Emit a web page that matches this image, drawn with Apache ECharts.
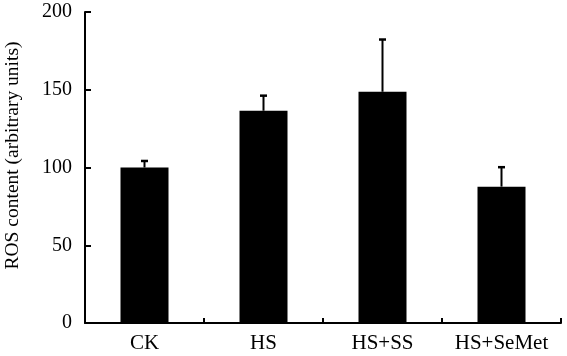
<!DOCTYPE html>
<html><head><meta charset="utf-8">
<script src="https://cdn.jsdelivr.net/npm/echarts@6/dist/echarts.min.js"></script>
<style>html,body{margin:0;padding:0;background:#fff}#c{width:567px;height:356px}</style>
</head><body><div id="c"></div>
<script>
const categories = ['CK', 'HS', 'HS+SS', 'HS+SeMet'];
const means = [100, 136.5, 148.7, 87.7];
const errors = [4.2, 9.7, 33.6, 12.5];
const yTicks = [0, 50, 100, 150, 200];

const font = '"Liberation Serif", "Times New Roman", serif';
const chart = echarts.init(document.getElementById('c'), null, {renderer: 'canvas'});
chart.setOption({
  animation: false,
  backgroundColor: '#fff',
  grid: {left: 85, right: 6, top: 12, bottom: 33, containLabel: false, outerBoundsMode: 'none'},
  xAxis: {
    type: 'category', data: categories,
    axisLine: {lineStyle: {color: '#000', width: 2}},
    axisTick: {show: true, inside: true, length: 5, lineStyle: {color: '#000', width: 2}, alignWithLabel: false},
    axisLabel: {color: '#000', fontFamily: font, fontSize: 21, margin: 10, interval: 0, hideOverlap: false}
  },
  yAxis: {
    type: 'value', min: yTicks[0], max: yTicks[yTicks.length - 1], interval: 50,
    name: 'ROS content (arbitrary units)', nameLocation: 'middle', nameGap: 62,
    nameTextStyle: {color: '#000', fontFamily: font, fontSize: 19.5, padding: [0, 0, 0, 24]},
    axisLine: {show: true, lineStyle: {color: '#000', width: 2}},
    axisTick: {show: true, inside: true, length: 6, lineStyle: {color: '#000', width: 2}},
    axisLabel: {color: '#000', fontFamily: font, fontSize: 20, margin: 13},
    splitLine: {show: false}
  },
  series: [
    {
      type: 'bar', data: means, barWidth: 48,
      itemStyle: {color: '#000'}, z: 2
    },
    {
      type: 'custom', z: 3,
      data: means.map((m, i) => [i, m, m + errors[i]]),
      renderItem: function (params, api) {
        const x = api.value(0);
        const p0 = api.coord([x, api.value(1)]);
        const p1 = api.coord([x, api.value(2)]);
        const hw = 3.5;
        return {
          type: 'group',
          children: [
            {type: 'line', shape: {x1: p0[0], y1: p0[1], x2: p1[0], y2: p1[1]}, style: {stroke: '#000', lineWidth: 2}},
            {type: 'line', shape: {x1: p1[0] - hw, y1: p1[1], x2: p1[0] + hw, y2: p1[1]}, style: {stroke: '#000', lineWidth: 2.5}}
          ]
        };
      }
    }
  ]
});
</script>
</body></html>
